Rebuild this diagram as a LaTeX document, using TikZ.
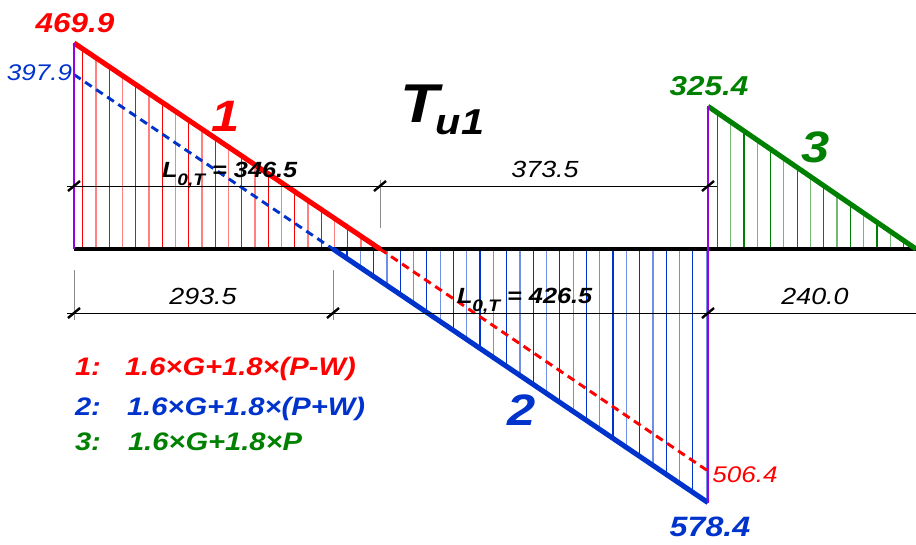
\documentclass[tikz,border=0pt]{standalone}
\usepackage{fontspec}
\usepackage{graphicx}
\setmainfont{Liberation Sans}
\usetikzlibrary{calc}
\definecolor{cred}{RGB}{255,0,0}
\definecolor{cblue}{RGB}{0,51,204}
\definecolor{cgreen}{RGB}{0,128,0}
\definecolor{cpurple}{RGB}{153,0,221}
\newcommand{\wide}[1]{\scalebox{1.15}[1]{#1}}
\newcommand{\fs}[1]{\fontsize{#1}{#1}\selectfont}
\begin{document}
\begin{tikzpicture}[x=0.75pt,y=-0.75pt,
  lbl/.style={inner sep=0pt, outer sep=0pt, anchor=base},
  lblw/.style={inner sep=0pt, outer sep=0pt, anchor=base west},
  bi/.style={font=\bfseries\itshape},
  it/.style={font=\itshape},
  hatch/.style={line width=0.9pt},
  mainline/.style={line width=3.8pt},
  dashline/.style={line width=2.2pt, dash pattern=on 6pt off 4pt},
  endline/.style={cpurple, line width=2.2pt},
  dimline/.style={black, line width=0.7pt},
  extline/.style={black!45, line width=0.7pt},
  ticksl/.style={black, line width=1.8pt}]
\useasboundingbox (0,0) rectangle (916,544);

% key points
\coordinate (rtop) at (74,43);
\coordinate (rzero) at (380,249);
\coordinate (rend) at (708,471);
\coordinate (btop) at (74,74.6);
\coordinate (bzero) at (333,249);
\coordinate (bbot) at (708,502.6);
\coordinate (gtop) at (708,106.3);
\coordinate (gend) at (916,249);
\coordinate (o) at (74,249);

% hatching
\foreach \k in {0,...,22}{
  \pgfmathsetmacro\t{(8.7+13.25*\k)/306}
  \ifodd\k \def\hc{cred!50}\else\def\hc{cred}\fi
  \path ($(rtop)!\t!(rzero)$) coordinate (h);
  \draw[hatch,\hc] (h) -- (h |- o);
}
\foreach \k in {0,...,27}{
  \pgfmathsetmacro\t{(14+13.3*\k)/375}
  \ifodd\k \def\hc{cblue!55}\else\def\hc{cblue}\fi
  \path ($(bzero)!\t!(bbot)$) coordinate (h);
  \draw[hatch,\hc] (h) -- (h |- o);
}
\foreach \k in {0,...,14}{
  \pgfmathsetmacro\t{(9.3+13.3*\k)/208}
  \ifodd\k \def\hc{cgreen!55}\else\def\hc{cgreen}\fi
  \path ($(gtop)!\t!(gend)$) coordinate (h);
  \draw[hatch,\hc] (h) -- (h |- o);
}

% baseline
\draw[black, line width=3.6pt] (o) -- (gend);

% diagram lines
\draw[cred, mainline] (rtop) -- (rzero);
\draw[cred, dashline] (rzero) -- (rend);
\draw[cblue, dashline] (btop) -- (bzero);
\draw[cblue, mainline] (bzero) -- (bbot);
\draw[cgreen, mainline] (gtop) -- (gend);
\draw[endline] (rtop) -- (o);
\draw[endline] (gtop) -- (bbot);

% dimension lines
\coordinate (d1a) at (67,186);
\coordinate (d1b) at (717,186);
\coordinate (d2a) at (67,313);
\coordinate (d2b) at (916,313);
\draw[dimline] (d1a) -- (d1b);
\draw[dimline] (d2a) -- (d2b);
\coordinate (e1a) at (380,180); \coordinate (e1b) at (380,228);
\coordinate (e2a) at (74,270);  \coordinate (e2b) at (74,320);
\coordinate (e3a) at (333,270); \coordinate (e3b) at (333,320);
\draw[extline] (e1a) -- (e1b);
\draw[extline] (e2a) -- (e2b);
\draw[extline] (e3a) -- (e3b);
\foreach \p in {(74,186),(380,186),(708,186),(74,313),(333,313),(708,313)}{
  \path \p coordinate (tk);
  \draw[ticksl] ($(tk)+(-6,5)$) -- ($(tk)+(6,-5)$);
}

% value labels
\node[lbl, bi, text=cred] (v1) at (75,32) {\wide{\fs{20.5}469.9}};
\node[lbl, it, text=cblue] (v2) at (39.5,80) {\wide{\fs{17}397.9}};
\node[lbl, bi, text=cgreen] (v3) at (709,95) {\wide{\fs{20.5}325.4}};
\node[lbl, bi, text=cblue] (v4) at (710,536) {\wide{\fs{21}578.4}};
\node[lbl, it, text=cred] (v5) at (745,482) {\wide{\fs{17}506.4}};

% title
\node[lbl, bi] (tT) at (420,122) {\wide{\fs{41}T}};
\node[lbl, bi] (tU) at (460,134) {\wide{\fs{27}u1}};

% curve numbers
\node[lbl, bi, text=cred] (n1) at (226,131) {\wide{\fs{33}1}};
\node[lbl, bi, text=cgreen] (n3) at (816,162) {\wide{\fs{33}3}};
\node[lbl, bi, text=cblue] (n2) at (522,425) {\wide{\fs{33}2}};

% dimension labels
\node[lblw, bi] (L1) at (162,177) {\wide{\fs{16.5}L\raisebox{-6pt}{\fs{12.5}0,T}\fs{16.5} = 346.5}};
\node[lbl, it] (d1) at (545,177) {\wide{\fs{17.5}373.5}};
\node[lbl, it] (d2) at (203,304) {\wide{\fs{17.5}293.5}};
\node[lblw, bi] (L2) at (457,303) {\wide{\fs{16.5}L\raisebox{-6pt}{\fs{12.5}0,T}\fs{16.5} = 426.5}};
\node[lbl, it] (d3) at (815,304) {\wide{\fs{17.5}240.0}};

% legend
\node[lblw, bi, text=cred] (k1) at (75,375) {\wide{\fs{19}1:}};
\node[lblw, bi, text=cred] (f1) at (125,375) {\wide{\fs{19}1.6×G+1.8×(P-W)}};
\node[lblw, bi, text=cblue] (k2) at (75,415) {\wide{\fs{19}2:}};
\node[lblw, bi, text=cblue] (f2) at (127,415) {\wide{\fs{19}1.6×G+1.8×(P+W)}};
\node[lblw, bi, text=cgreen] (k3) at (75,450) {\wide{\fs{19}3:}};
\node[lblw, bi, text=cgreen] (f3) at (128,450) {\wide{\fs{19}1.6×G+1.8×P}};
\end{tikzpicture}
\end{document}
